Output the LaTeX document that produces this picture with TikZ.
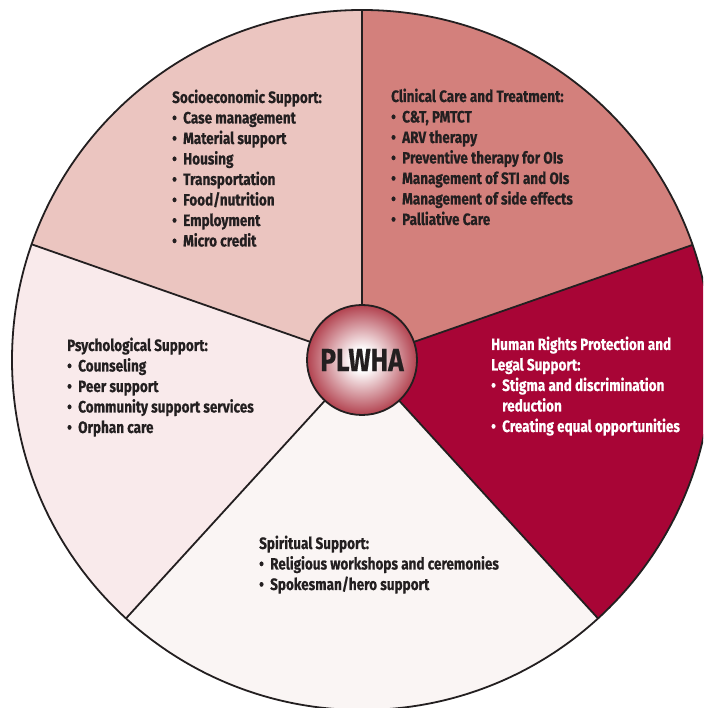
\documentclass[tikz,border=0pt]{standalone}
\usepackage{fontspec}
\usetikzlibrary{calc}
\setmainfont{Fira Sans}[FakeStretch=0.82, FakeBold=0.5]
\definecolor{socio}{HTML}{EBC5C0}
\definecolor{clin}{HTML}{D3807C}
\definecolor{rights}{HTML}{A80536}
\definecolor{spirit}{HTML}{FAF5F4}
\definecolor{psych}{HTML}{F9EAEB}
\definecolor{ink}{HTML}{231F20}
\definecolor{hubedge}{HTML}{B2424F}
\pgfdeclareradialshading{hubshade}{\pgfpoint{0bp}{0bp}}{color(0bp)=(white); color(5bp)=(white); color(13bp)=(white!60!hubedge); color(25bp)=(hubedge); color(50bp)=(hubedge)}
\newcommand{\bu}[1]{\makebox[11pt][l]{\textbullet}#1}
\newcommand{\bc}[1]{\hspace*{11pt}#1}
\tikzset{
  blocktext/.style={anchor=base west, inner sep=0pt, align=left, text=ink,
    font=\fontsize{16.5}{20.5}\selectfont\bfseries},
  divider/.style={draw=ink, line width=1.8pt},
}
\begin{document}
\begin{tikzpicture}[x=1pt,y=1pt]
\useasboundingbox (0,0) rectangle (703,708);
\clip (0,0) rectangle (703,708);
\coordinate (C) at (362,348);
\def\R{350}
\fill[socio] (C) -- ++(90:\R) arc (90:160.7:\R) -- cycle;
\fill[clin] (C) -- ++(19.2:\R) arc (19.2:90:\R) -- cycle;
\fill[rights] (C) -- ++(-47.6:\R) arc (-47.6:19.2:\R) -- cycle;
\fill[spirit] (C) -- ++(-132.4:\R) arc (-132.4:-47.6:\R) -- cycle;
\fill[psych] (C) -- ++(160.7:\R) arc (160.7:227.6:\R) -- cycle;
\coordinate (v1) at ($(C)+(90:\R)$);
\coordinate (v2) at ($(C)+(19.2:\R)$);
\coordinate (v3) at ($(C)+(-47.6:\R)$);
\coordinate (v4) at ($(C)+(-132.4:\R)$);
\coordinate (v5) at ($(C)+(160.7:\R)$);
\draw[divider] (C) -- (v1);
\draw[divider] (C) -- (v2);
\draw[divider] (C) -- (v3);
\draw[divider] (C) -- (v4);
\draw[divider] (C) -- (v5);
\draw[draw=ink, line width=1.8pt] (C) circle (\R);
\node[circle, minimum size=110pt, inner sep=0pt, draw=ink, line width=1.8pt,
  shading=hubshade,
  font=\fontsize{32}{32}\selectfont\bfseries, text=ink] (hub) at (C) {PLWHA};

\node[blocktext] (socioT) at (172,461.5) {Socioeconomic Support:\\
\bu{Case management}\\ \bu{Material support}\\ \bu{Housing}\\ \bu{Transportation}\\
\bu{Food/nutrition}\\ \bu{Employment}\\ \bu{Micro credit}};

\node[blocktext] (clinT) at (391,483) {Clinical Care and Treatment:\\
\bu{C\&T, PMTCT}\\ \bu{ARV therapy}\\ \bu{Preventive therapy for OIs}\\
\bu{Management of STI and OIs}\\ \bu{Management of side effects}\\ \bu{Palliative Care}};

\node[blocktext, text=white] (rightsT) at (491,276) {Human Rights Protection and\\
Legal Support:\\ \bu{Stigma and discrimination}\\ \bc{reduction}\\ \bu{Creating equal opportunities}};

\node[blocktext] (psychT) at (67,275) {Psychological Support:\\
\bu{Counseling}\\ \bu{Peer support}\\ \bu{Community support services}\\ \bu{Orphan care}};

\node[blocktext] (spiritT) at (259,118) {Spiritual Support:\\
\bu{Religious workshops and ceremonies}\\ \bu{Spokesman/hero support}};
\end{tikzpicture}
\end{document}
